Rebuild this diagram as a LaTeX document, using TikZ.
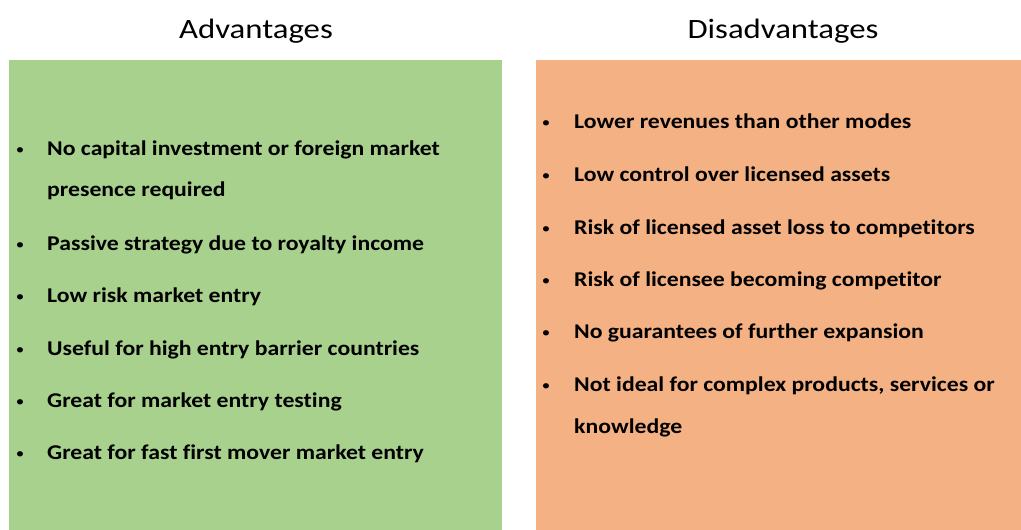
\documentclass[tikz,border=0pt]{standalone}
\usepackage{fontspec}
\setmainfont{Carlito}[FakeStretch=1.13, Ligatures=NoCommon]
\newfontfamily\titlefont{Carlito}[FakeStretch=1.17, Ligatures=NoCommon]
\definecolor{advgreen}{HTML}{A9D18E}
\definecolor{disorange}{HTML}{F4B183}
\begin{document}
\begin{tikzpicture}[x=1pt,y=-1pt,
  title/.style={font=\titlefont\fontsize{28}{32}\selectfont, anchor=base},
  item/.style={font=\bfseries\fontsize{21}{24}\selectfont, anchor=base west, inner sep=0pt},
  bul/.style={font=\fontsize{15}{18}\selectfont, anchor=base, inner sep=0pt}]
\useasboundingbox (0,0) rectangle (1021,530);
\fill[white] (0,0) rectangle (1021,530);
\fill[advgreen] (9,60) rectangle (502,530);
\fill[disorange] (536,60) rectangle (1021,530);
\node[title] (tadv) at (256,38) {Advantages};
\node[title] (tdis) at (783,38) {Disadvantages};
% left
\node[bul] (lb1) at (20,154) {•};
\node[item] (l1) at (47,155) {No capital investment or foreign market};
\node[item] (l1b) at (47,196) {presence required};
\node[bul] (lb2) at (20,249) {•};
\node[item] (l2) at (47,250) {Passive strategy due to royalty income};
\node[bul] (lb3) at (20,301) {•};
\node[item] (l3) at (47,302) {Low risk market entry};
\node[bul] (lb4) at (20,354) {•};
\node[item] (l4) at (47,355) {Useful for high entry barrier countries};
\node[bul] (lb5) at (20,406) {•};
\node[item] (l5) at (47,407) {Great for market entry testing};
\node[bul] (lb6) at (20,458) {•};
\node[item] (l6) at (47,459) {Great for fast first mover market entry};
% right
\node[bul] (rb1) at (546,127) {•};
\node[item] (r1) at (574,128) {Lower revenues than other modes};
\node[bul] (rb2) at (546,180) {•};
\node[item] (r2) at (574,181) {Low control over licensed assets};
\node[bul] (rb3) at (546,233) {•};
\node[item] (r3) at (574,234) {Risk of licensed asset loss to competitors};
\node[bul] (rb4) at (546,285) {•};
\node[item] (r4) at (574,286) {Risk of licensee becoming competitor};
\node[bul] (rb5) at (546,337) {•};
\node[item] (r5) at (574,338) {No guarantees of further expansion};
\node[bul] (rb6) at (546,390) {•};
\node[item] (r6) at (574,391) {Not ideal for complex products, services or};
\node[item] (r6b) at (574,433) {knowledge};
\end{tikzpicture}
\end{document}
